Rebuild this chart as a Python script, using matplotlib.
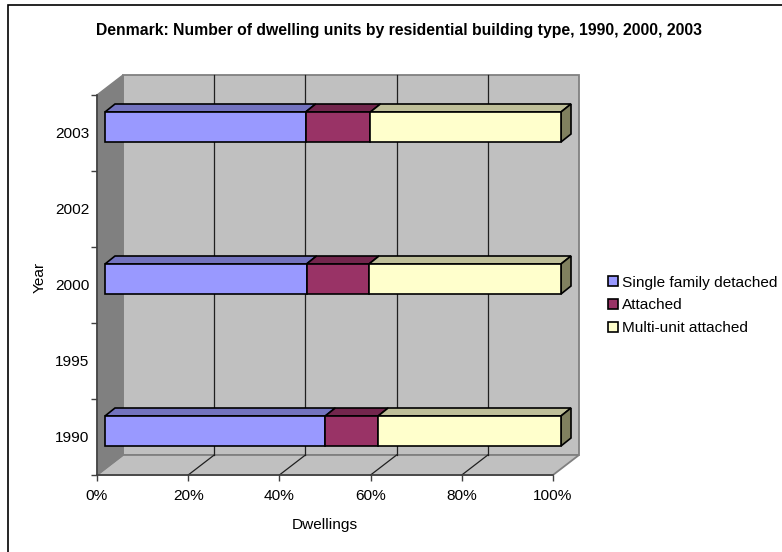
import numpy as np
import matplotlib
matplotlib.use("Agg")
import matplotlib.pyplot as plt
from matplotlib.patches import Rectangle
from matplotlib.lines import Line2D

plt.rcParams["font.family"] = ["Liberation Sans", "DejaVu Sans"]

years = ["1990", "1995", "2000", "2002", "2003"]
names = ["Single family detached", "Attached", "Multi-unit attached"]
single = [48.3, 0, 44.2, 0, 44.0]
attached = [11.6, 0, 13.7, 0, 14.2]
multi = [40.1, 0, 42.1, 0, 41.8]
front_cols = ["#9999ff", "#993366", "#ffffcc"]
top_cols = ["#7373bf", "#73264d", "#bfbf99"]
side_cols = ["#7373bf", "#73264d", "#80805f"]
xticks = [0, 20, 40, 60, 80, 100]
xticklabels = ["0%", "20%", "40%", "60%", "80%", "100%"]

W, H = 782, 552
fig = plt.figure(figsize=(W / 100, H / 100), dpi=100)
# axes = front plane of the 3d box
ax = fig.add_axes([97 / W, 1 - 475 / H, 456 / W, 380 / H])
ax.set_xlim(0, 100)
ax.set_ylim(0, 5)
ax.patch.set_visible(False)

px = 100 / 456   # data units per pixel along x
py = 5 / 380     # along y
wx, wy = 26 * px, 20 * py  # wall depth
ox, oy = 8 * px, 6 * py    # bar offset from front plane
dx, dy = 10 * px, 8 * py   # bar depth

wall = "#c0c0c0"
edge = "#808080"
# back wall, floor, side wall
ax.fill([wx, 100 + wx, 100 + wx, wx], [wy, wy, 5 + wy, 5 + wy], fc=wall, ec=edge, lw=1.3, clip_on=False, zorder=1)
ax.fill([0, 100, 100 + wx, wx], [0, 0, wy, wy], fc=wall, ec=edge, lw=1.3, clip_on=False, zorder=1)
ax.fill([0, wx, wx, 0], [0, wy, 5 + wy, 5], fc="#808080", ec=edge, lw=1, clip_on=False, zorder=1)
for t in xticks[1:-1]:
    ax.plot([t + wx, t + wx], [wy, 5 + wy], color="#202020", lw=0.9, clip_on=False, zorder=2)
    ax.plot([t, t + wx], [0, wy], color="#202020", lw=0.9, clip_on=False, zorder=2)

h = 30 * py
series = [single, attached, multi]
left = np.zeros(5)
for k, vals in enumerate(series):
    for i, v in enumerate(vals):
        if v == 0:
            continue
        x0 = left[i] + ox
        x1 = x0 + v
        y0 = i + 0.5 + oy - h / 2
        y1 = y0 + h
        kw = dict(ec="black", lw=1.2, clip_on=False, joinstyle="miter", zorder=3 + k)
        ax.fill([x0, x1, x1 + dx, x0 + dx], [y1, y1, y1 + dy, y1 + dy], fc=top_cols[k], **kw)
        if k == 2:
            ax.fill([x1, x1 + dx, x1 + dx, x1], [y0, y0 + dy, y1 + dy, y1], fc=side_cols[k], **kw)
        ax.barh(i + 0.5 + oy, v, h, left=x0, color=front_cols[k], edgecolor="black", linewidth=1.2, clip_on=False, zorder=3 + k)
    left = left + np.array(vals)

for s in ["top", "right"]:
    ax.spines[s].set_visible(False)
for s in ["left", "bottom"]:
    ax.spines[s].set_color("#404040")
    ax.spines[s].set_linewidth(1.2)
    ax.spines[s].set_zorder(2.5)

fs = 11.1
ax.set_xticks(xticks)
ax.set_xticklabels(xticklabels, fontsize=fs, color="black")
ax.set_yticks(range(6))
ax.set_yticklabels([])
ax.set_yticks(np.arange(5) + 0.5, years, minor=True, fontsize=fs)
ax.tick_params(axis="both", which="major", length=4.5, width=1, color="#404040")
ax.tick_params(axis="y", which="minor", length=0, pad=5.5)
ax.tick_params(axis="x", which="major", pad=5.7)

fig.text(399 / W, 1 - 30 / H, "Denmark: Number of dwelling units by residential building type, 1990, 2000, 2003",
         ha="center", va="center", fontsize=11.3, fontweight="bold")
fig.text(325 / W, 1 - 525 / H, "Dwellings", ha="center", va="center", fontsize=fs)
fig.text(40 / W, 1 - 277 / H, "Year", ha="center", va="center", rotation=90, fontsize=fs)

# chart frame, only top and left show up in the crop
fig.add_artist(Line2D([8 / W, 8 / W, 1], [0, 1 - 5 / H, 1 - 5 / H], transform=fig.transFigure,
                      color="black", lw=1.2, solid_joinstyle="miter"))

handles = [Rectangle((0, 0), 1, 1, fc=c, ec="black", lw=1.2) for c in front_cols]
leg = fig.legend(handles, names, loc="upper left", bbox_to_anchor=(608 / W, 1 - 275.5 / H),
                 bbox_transform=fig.transFigure, frameon=False, fontsize=fs,
                 handlelength=0.65, handleheight=0.65, handletextpad=0.28, labelspacing=0.58,
                 borderpad=0, borderaxespad=0)

fig.savefig("out.png", dpi=100)
